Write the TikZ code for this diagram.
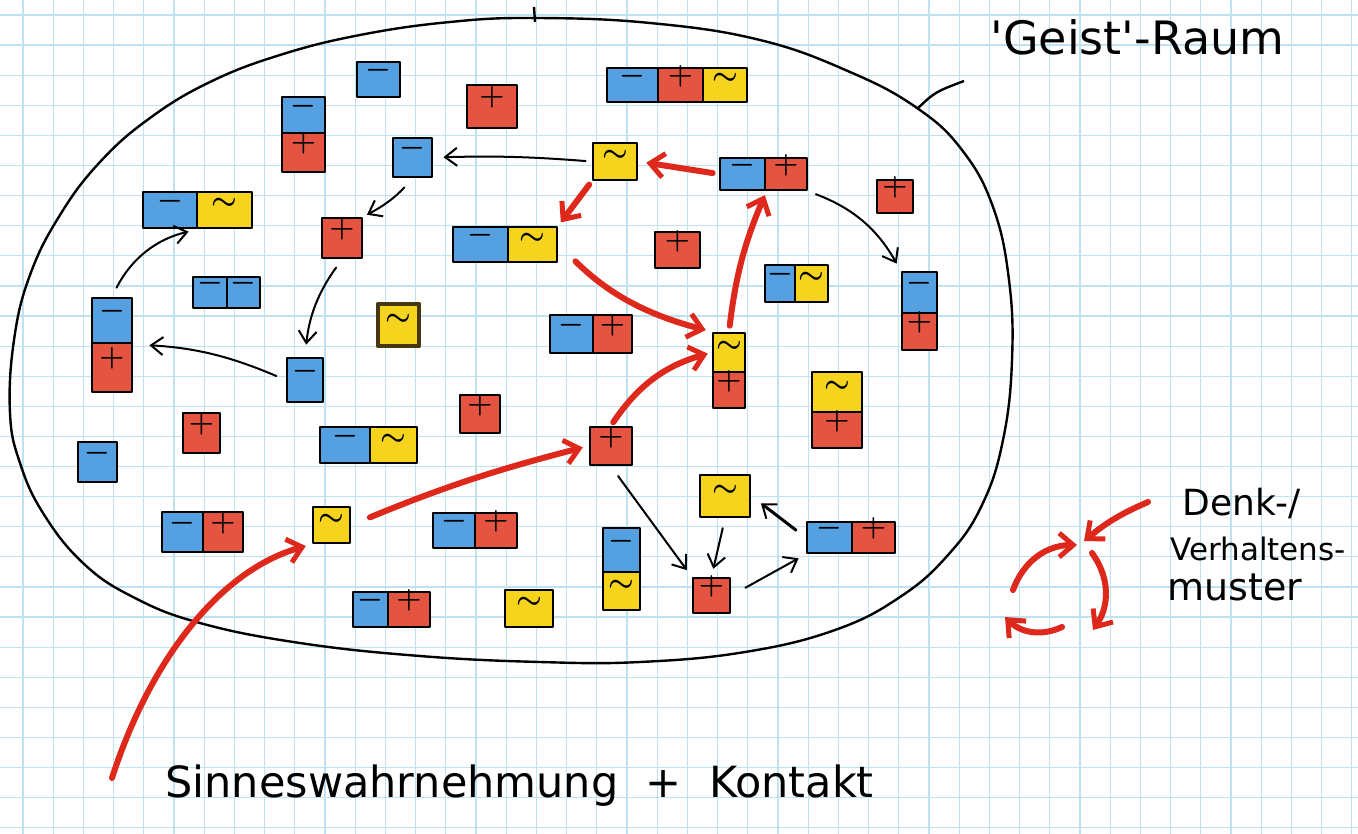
\documentclass[tikz,border=0pt]{standalone}
\usepackage{fontspec}
\newfontfamily\hand{DejaVu Sans}
\usetikzlibrary{fit,arrows.meta}
\definecolor{cblue}{RGB}{84,160,224}
\definecolor{cred}{RGB}{228,84,64}
\definecolor{cyel}{RGB}{246,212,30}
\definecolor{gridc}{RGB}{190,226,240}
\definecolor{arrred}{RGB}{222,40,28}
\definecolor{darkrim}{RGB}{70,55,15}
\newcommand\cel[7]{\node[#6, fit={(#2,#3) (#4,#5)}] (#1) {#7};}
\newcommand\symM{$-$}
\newcommand\symP{$+$}
\newcommand\symT{$\sim$}
\tikzset{
  cellbase/.style={draw=black, line width=1.4pt, inner sep=0pt, line join=round,
                   font=\fontsize{14}{14}\selectfont\boldmath},
  blu/.style={cellbase, fill=cblue},
  rd/.style={cellbase, fill=cred},
  yel/.style={cellbase, fill=cyel},
  yeldark/.style={cellbase, fill=cyel, draw=darkrim, line width=2.4pt},
  blk/.style={draw=black, line width=1pt, line cap=round,
              -{Straight Barb[length=6pt,width=9pt,line width=1pt]}},
  rar/.style={draw=arrred, line width=3pt, line cap=round,
              -{Straight Barb[length=7pt,width=12pt,line width=2.5pt]}},
  blob/.style={draw=black, line width=1.2pt},
  lbl/.style={font=\hand, inner sep=0pt, anchor=base west}
}
\begin{document}
\begin{tikzpicture}[x=0.5pt,y=-0.5pt]
\useasboundingbox (0,0) rectangle (1358,834);
\fill[white] (0,0) rectangle (1358,834);
% grid paper
\foreach \i in {0,...,44} \draw[gridc, line width=0.6pt] ({23+30.2*\i},0) -- ({23+30.2*\i},834);
\foreach \j in {0,...,27} \draw[gridc, line width=0.6pt] (0,{15+30.1*\j}) -- (1358,{15+30.1*\j});

% the 'Geist'-Raum outline
\draw[blob] plot[smooth cycle, tension=0.7] coordinates {
 (535,18) (650,23) (760,40) (850,72) (917,108) (962,150) (993,207) (1009,280)
 (1012,360) (1003,440) (982,505) (948,555) (900,597) (835,630) (745,652) (640,662)
 (540,662) (420,656) (300,643) (200,623) (133,597) (83,563) (43,513) (20,463)
 (10,413) (14,340) (30,275) (60,215) (100,162) (150,118) (210,82) (280,55) (360,35) (450,22)};
\coordinate (br1) at (917,109);
\coordinate (br2) at (964,81);
\draw[blob] (br1) .. controls (935,92) .. (br2);
\coordinate (tk1) at (534,7);
\coordinate (tk2) at (535,22);
\draw[blob] (tk1) -- (tk2);

% cells
\cel{c1}{357}{62}{400}{97}{blu}{\symM}
\cel{c2a}{282}{97}{325}{133}{blu}{\symM}
\cel{c2b}{282}{133}{325}{172}{rd}{\symP}
\cel{c3}{393}{138}{432}{177}{blu}{\symM}
\cel{c4a}{143}{192}{197}{228}{blu}{\symM}
\cel{c4b}{197}{192}{252}{228}{yel}{\symT}
\cel{c5}{322}{218}{362}{258}{rd}{\symP}
\cel{c6a}{193}{277}{227}{308}{blu}{\symM}
\cel{c6b}{227}{277}{260}{308}{blu}{\symM}
\cel{c7}{378}{304}{419}{346}{yeldark}{\symT}
\cel{c8a}{92}{298}{132}{343}{blu}{\symM}
\cel{c8b}{92}{343}{132}{392}{rd}{\symP}
\cel{c9}{287}{358}{323}{402}{blu}{\symM}
\cel{c10}{183}{413}{220}{453}{rd}{\symP}
\cel{c11}{78}{442}{117}{482}{blu}{\symM}
\cel{c12a}{320}{427}{370}{463}{blu}{\symM}
\cel{c12b}{370}{427}{417}{463}{yel}{\symT}
\cel{c13a}{162}{512}{203}{552}{blu}{\symM}
\cel{c13b}{203}{512}{243}{552}{rd}{\symP}
\cel{c14}{313}{507}{350}{543}{yel}{\symT}
\cel{c15a}{353}{592}{388}{627}{blu}{\symM}
\cel{c15b}{388}{592}{430}{627}{rd}{\symP}
\cel{c16}{467}{85}{517}{128}{rd}{\symP}
\cel{c17a}{607}{68}{658}{102}{blu}{\symM}
\cel{c17b}{658}{68}{703}{102}{rd}{\symP}
\cel{c17c}{703}{68}{747}{102}{yel}{\symT}
\cel{c18}{593}{143}{637}{180}{yel}{\symT}
\cel{c19a}{720}{158}{765}{190}{blu}{\symM}
\cel{c19b}{765}{158}{807}{190}{rd}{\symP}
\cel{c20}{877}{180}{913}{213}{rd}{\symP}
\cel{c21a}{453}{227}{508}{262}{blu}{\symM}
\cel{c21b}{508}{227}{557}{262}{yel}{\symT}
\cel{c22}{655}{232}{700}{268}{rd}{\symP}
\cel{c23a}{765}{265}{795}{302}{blu}{\symM}
\cel{c23b}{795}{265}{828}{302}{yel}{\symT}
\cel{c24a}{902}{272}{937}{313}{blu}{\symM}
\cel{c24b}{902}{313}{937}{350}{rd}{\symP}
\cel{c25a}{550}{315}{593}{353}{blu}{\symM}
\cel{c25b}{593}{315}{632}{353}{rd}{\symP}
\cel{c26a}{713}{333}{745}{372}{yel}{\symT}
\cel{c26b}{713}{372}{745}{408}{rd}{\symP}
\cel{c27a}{812}{372}{862}{412}{yel}{\symT}
\cel{c27b}{812}{412}{862}{448}{rd}{\symP}
\cel{c28}{460}{395}{500}{433}{rd}{\symP}
\cel{c29}{590}{427}{632}{465}{rd}{\symP}
\cel{c30}{700}{475}{750}{517}{yel}{\symT}
\cel{c31a}{433}{513}{475}{548}{blu}{\symM}
\cel{c31b}{475}{513}{517}{548}{rd}{\symP}
\cel{c32a}{603}{528}{640}{572}{blu}{\symM}
\cel{c32b}{603}{572}{640}{610}{yel}{\symT}
\cel{c33}{505}{590}{553}{627}{yel}{\symT}
\cel{c34}{693}{578}{730}{613}{rd}{\symP}
\cel{c35a}{807}{522}{852}{553}{blu}{\symM}
\cel{c35b}{852}{522}{895}{553}{rd}{\symP}

% black connectors
\draw[blk, shorten <=3pt, shorten >=5pt] (c18.west) to[bend right=3] (c3.east);
\draw[blk, shorten <=6pt, shorten >=2pt] (c3.south) to[bend left=10] (c5.north east);
\draw[blk, shorten <=5pt, shorten >=6pt] (c5.south) to[bend right=15] (c9.north);
\draw[blk, shorten <=5pt, shorten >=8pt] (c9.west) to[bend right=10] (c8a.south east);
\draw[blk, shorten <=5pt, shorten >=5pt] (c8a.north) to[bend left=25] (c4a.south east);
\draw[blk, shorten <=4pt, shorten >=4pt] (c19b.south east) to[bend left=20] (c24a.north west);
\draw[blk, shorten <=6pt, shorten >=4pt] (c29.south) -- (c34.north west);
\draw[blk, shorten <=5pt, shorten >=4pt] (c30.south) -- (c34.north);
\draw[blk, shorten <=8pt, shorten >=4pt] (c34.east) -- (c35a.south west);
\draw[blk, line width=1.5pt, shorten <=6pt, shorten >=6pt] (c35a.west) -- (c30.east);

% red connectors
\coordinate (s1) at (112,778);
\draw[rar, shorten >=3pt] (s1) .. controls (150,660) and (220,570) .. (c14.south west);
\draw[rar, shorten <=10pt, shorten >=3pt] (c14.east) to[bend left=4] (c29.west);
\draw[rar, shorten <=2pt, shorten >=2pt] (c29.north) to[bend left=20] (c26a.west);
\draw[rar, shorten <=3pt, shorten >=2pt] (c26a.north) to[bend left=8] (c19a.south east);
\draw[rar, shorten <=3pt, shorten >=4pt] (c19a.west) -- (c18.east);
\draw[rar, shorten <=2pt, shorten >=2pt] (c18.south west) -- (c21b.north east);
\draw[rar, shorten <=12pt, shorten >=3pt] (c21b.east) to[bend right=15] (c26a.north west);

% pattern loop
\coordinate (l0) at (1148,502);
\coordinate (l1) at (1084,541);
\coordinate (p1) at (1092,553);
\coordinate (p2) at (1093,630);
\coordinate (p3) at (1062,627);
\coordinate (p4) at (1005,617);
\coordinate (p5) at (1013,590);
\coordinate (p6) at (1077,545);
\draw[rar] (l0) to[bend right=8] (l1);
\draw[rar] (p1) to[bend left=35] (p2);
\draw[rar] (p3) to[bend left=35] (p4);
\draw[rar] (p5) to[bend left=35] (p6);

% labels
\node[lbl, font=\hand\fontsize{23}{23}\selectfont] (geist) at (990,55) {'Geist'-Raum};
\node[lbl, font=\hand\fontsize{18}{18}\selectfont] (denk) at (1182,515) {Denk-/};
\node[lbl, font=\hand\fontsize{15.5}{15.5}\selectfont] (verh) at (1170,560) {Verhaltens-};
\node[lbl, font=\hand\fontsize{19}{19}\selectfont] (must) at (1167,600) {muster};
\node[lbl, font=\hand\fontsize{21.5}{21.5}\selectfont] (sinn) at (165,797) {Sinneswahrnehmung\ \ +\ \ Kontakt};
\end{tikzpicture}
\end{document}
